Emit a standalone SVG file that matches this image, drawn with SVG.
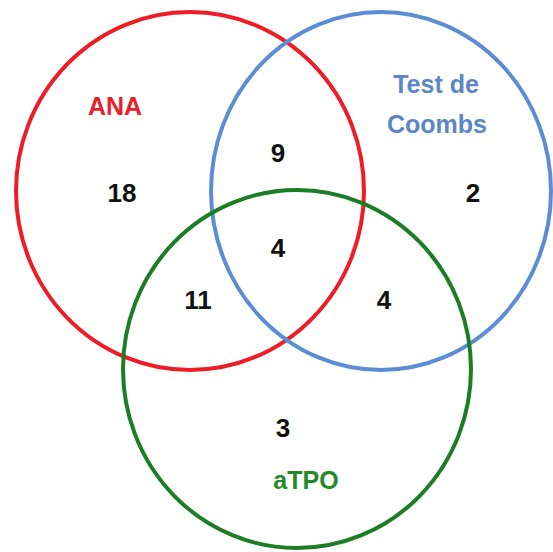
<svg xmlns="http://www.w3.org/2000/svg" width="553" height="552" viewBox="0 0 553 552">
<style>
.c{fill:none;stroke-width:4}
.t{font-family:"Liberation Sans",Arial,sans-serif;font-weight:bold;text-anchor:middle}
.n{font-size:26px;fill:#111}
.l{font-size:25px}
</style>
<rect width="553" height="552" fill="#fff"/>
<g id="ana">
<ellipse class="c" cx="190" cy="191" rx="174" ry="179" stroke="#ee1c25"/>
<text class="t l" x="115" y="115" fill="#e8202a">ANA</text>
</g>
<g id="coombs">
<ellipse class="c" cx="381" cy="191" rx="170" ry="179" stroke="#5b8dd6"/>
<text class="t l" x="436" y="93" fill="#5b86c8">Test de</text>
<text class="t l" x="437" y="133" fill="#5b86c8">Coombs</text>
</g>
<g id="atpo">
<ellipse class="c" cx="297" cy="369" rx="174" ry="179" stroke="#1b7d25"/>
<text class="t l" x="306" y="489" fill="#238a2b">aTPO</text>
</g>
<g id="counts">
<text class="t n" x="122" y="202">18</text>
<text class="t n" x="278" y="162">9</text>
<text class="t n" x="473" y="202">2</text>
<text class="t n" x="278" y="257">4</text>
<text class="t n" x="198" y="309">11</text>
<text class="t n" x="384" y="309">4</text>
<text class="t n" x="283" y="437">3</text>
</g>
</svg>
